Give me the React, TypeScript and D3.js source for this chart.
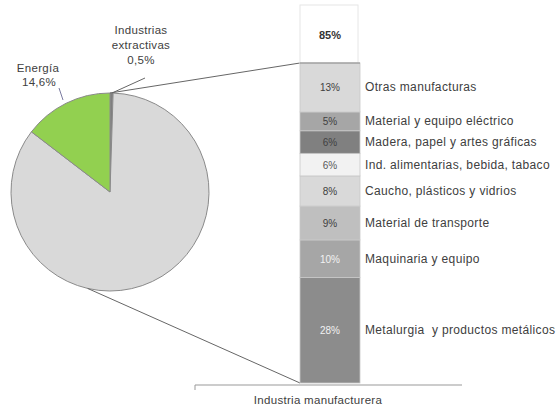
import React from "react";
import * as d3 from "d3";

const pieNames = ["Industrias extractivas", "Industria manufacturera", "Energía"];
const pieValues = [0.5, 84.9, 14.6];
const pieColors = ["#7f7f7f", "#d9d9d9", "#92d050"];

const barNames = [
  "Metalurgia  y productos metálicos",
  "Maquinaria y equipo",
  "Material de transporte",
  "Caucho, plásticos y vidrios",
  "Ind. alimentarias, bebida, tabaco",
  "Madera, papel y artes gráficas",
  "Material y equipo eléctrico",
  "Otras manufacturas",
];
const barValues = [28, 10, 9, 8, 6, 6, 5, 13];
const barColors = ["#8c8c8c", "#a6a6a6", "#bfbfbf", "#d9d9d9", "#f2f2f2", "#808080", "#a6a6a6", "#d9d9d9"];
const barTextColors = ["#f2f2f2", "#f2f2f2", "#404040", "#404040", "#595959", "#404040", "#404040", "#404040"];
const barTotalLabel = "85%";
const barCategory = "Industria manufacturera";

const W = 556;
const H = 409;
const font = "Liberation Sans, Arial, sans-serif";

export default function App() {
  const cx = 110, cy = 192, r = 99;
  const pie = d3.pie<number>().sort(null).value((d) => d)(pieValues);
  const arc = d3.arc<d3.PieArcDatum<number>>().innerRadius(0).outerRadius(r);

  const total = d3.sum(barValues);
  const y = d3.scaleLinear().domain([0, total]).range([383, 63]);
  const bx0 = 300, bx1 = 360;
  const stackStarts = d3.cumsum([0, ...barValues]);

  const fmt = (v: number) => v.toFixed(1).replace(".", ",") + "%";

  const topPt: [number, number] = [cx + r * Math.sin(pie[0].startAngle), cy - r * Math.cos(pie[0].startAngle)];
  const botAng = (193 * Math.PI) / 180;
  const botPt: [number, number] = [cx + r * Math.sin(botAng), cy - r * Math.cos(botAng)];

  return (
    <svg width={W} height={H} style={{ position: "absolute", left: 0, top: 0 }} fontFamily={font}>
      <g transform={`translate(${cx},${cy})`}>
        {pie.map((p, i) => (
          <path key={pieNames[i]} d={arc(p) || ""} fill={pieColors[i]} stroke="#8a8a8a" strokeWidth={1} />
        ))}
      </g>
      <line x1={topPt[0]} y1={topPt[1]} x2={bx0} y2={y(total)} stroke="#666" strokeWidth={1} />
      <line x1={botPt[0]} y1={botPt[1]} x2={bx0} y2={y(0)} stroke="#666" strokeWidth={1} />

      <g fontSize={11.5} fill="#404040" textAnchor="middle" letterSpacing={0.3}>
        <text x={141} y={34}>Industrias</text>
        <text x={141} y={49}>extractivas</text>
        <text x={141} y={64}>{fmt(pieValues[0])}</text>
        <text x={38} y={72}>Energía</text>
        <text x={39} y={86}>{fmt(pieValues[2])}</text>
      </g>
      <line x1={145} y1={78} x2={112} y2={93} stroke="#666" strokeWidth={1} />
      <line x1={59} y1={88} x2={63} y2={100} stroke="#7a7aa0" strokeWidth={1} />

      <rect x={bx0} y={5} width={bx1 - bx0 - 2} height={y(total) - 5} fill="#fff" stroke="#e6e6e6" />
      <text x={(bx0 + bx1) / 2} y={39} textAnchor="middle" fontSize={11} fontWeight="bold" fill="#333">
        {barTotalLabel}
      </text>

      {barValues.map((v, i) => {
        const y0 = y(stackStarts[i]);
        const y1 = y(stackStarts[i] + v);
        const mid = (y0 + y1) / 2;
        return (
          <g key={barNames[i]}>
            <rect x={bx0} y={y1} width={bx1 - bx0} height={y0 - y1} fill={barColors[i]} stroke="#c8c8c8" strokeWidth={0.8} />
            <text x={(bx0 + bx1) / 2} y={mid + 4} textAnchor="middle" fontSize={10} fill={barTextColors[i]}>
              {v}%
            </text>
            <text x={bx1 + 5} y={mid + 4} fontSize={12} letterSpacing={0.35} fill="#404040" style={{ whiteSpace: "pre" }}>
              {barNames[i]}
            </text>
          </g>
        );
      })}
      <line x1={bx0} y1={y(total)} x2={bx1} y2={y(total)} stroke="#8a8a8a" strokeWidth={1} />

      <line x1={195} y1={385} x2={462} y2={385} stroke="#999" strokeWidth={1} />
      <line x1={195} y1={385} x2={195} y2={390} stroke="#999" strokeWidth={1} />
      <text x={318} y={404} textAnchor="middle" fontSize={11.5} letterSpacing={0.3} fill="#404040">
        {barCategory}
      </text>
    </svg>
  );
}
